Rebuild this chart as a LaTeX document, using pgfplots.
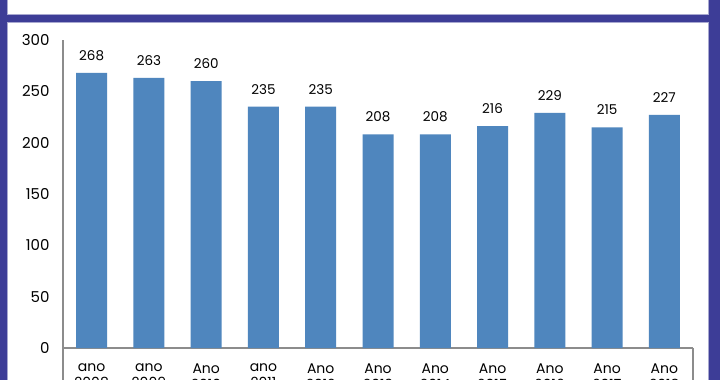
\documentclass[border=0pt]{standalone}
\usepackage{pgfplots}
\pgfplotsset{compat=1.18}
\usepackage{fontspec}
\setmainfont{Poppins}
\definecolor{frame}{HTML}{3D3D97}
\definecolor{barblue}{HTML}{4F86BE}
\definecolor{axgray}{HTML}{8C8C8C}
\definecolor{edge}{HTML}{A8A8D0}
\begin{document}
\begin{tikzpicture}[x=1pt,y=1pt]
\useasboundingbox (0,0) rectangle (720,380);
\begin{scope}
\clip (0,0) rectangle (720,380);
\fill[frame] (0,0) rectangle (720,380);
\filldraw[fill=white,draw=edge,line width=0.8pt] (7,366) rectangle (708,390);
\filldraw[fill=white,draw=edge,line width=0.8pt] (7,-10) rectangle (708,358);
\draw[axgray,line width=1.2pt] (63,32) -- (63,-5);
\draw[axgray,line width=1.2pt] (693,32) -- (693,-5);
\begin{axis}[
  at={(63pt,32pt)}, anchor=south west,
  scale only axis, width=630pt, height=308pt,
  xmin=-0.5, xmax=10.5, ymin=0, ymax=300,
  axis x line*=bottom, axis y line*=left,
  axis line style={axgray,line width=1.2pt},
  x axis line style={-}, y axis line style={-},
  ytick={0,50,...,300}, major tick length=0pt,
  xtick={0,...,10},
  xticklabels={ano\\2008,ano\\2009,Ano\\2010,ano\\2011,Ano\\2012,Ano\\2013,Ano\\2014,Ano\\2015,Ano\\2016,Ano\\2017,Ano\\2018},
  xticklabel style={align=center,font=\fontsize{14}{16}\selectfont,yshift=-12pt},
  yticklabel style={font=\fontsize{15}{18}\selectfont,xshift=-10pt},
  /pgf/number format/assume math mode=true,
  ybar, bar width=31pt,
  nodes near coords,
  every node near coord/.append style={font=\fontsize{13.5}{16}\selectfont,yshift=9pt},
  clip=false,
]
\addplot[fill=barblue,draw=none] coordinates {
(0,268) (1,263) (2,260) (3,235) (4,235) (5,208) (6,208) (7,216) (8,229) (9,215) (10,227)};
\end{axis}
\end{scope}
\end{tikzpicture}
\end{document}
